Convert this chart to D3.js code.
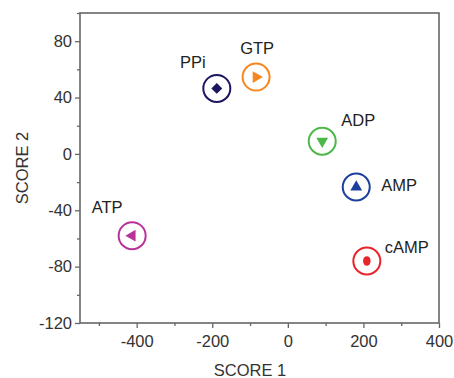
<!DOCTYPE html>
<html>
<head>
<meta charset="utf-8">
<script src="https://cdn.jsdelivr.net/npm/d3@7"></script>
<style>
  body { margin: 0; background: #fff; }
  text { font-family: "Liberation Sans", Arial, sans-serif; }
</style>
</head>
<body>
<script>
let names = ['PPi', 'GTP', 'ADP', 'AMP', 'cAMP', 'ATP']
let score1 = [-188, -84, 91, 181, 209, -412]
let score2 = [46.5, 54.5, 9, -23.5, -76, -58]
let colors = ['#1c1660', '#f7861f', '#4cb848', '#1d3f9c', '#e8242a', '#b8329b']
let shapes = ['diamond', 'right', 'down', 'up', 'dot', 'left']
// label offsets relative to point (px)
let labelDx = [-24, 1, 36, 43, 40, -25]
let labelDy = [-26, -29, -21, -2, -14, -29]
let xTicks = [-400, -200, 0, 200, 400]
let yTicks = [-120, -80, -40, 0, 40, 80]

let margin = { top: 13, right: 15, bottom: 55, left: 80 }
let width = 454 - margin.left - margin.right
let height = 378 - margin.top - margin.bottom
let frame = '#666'
let fs = '16.5px'

let svg = d3.select('body').append('svg')
  .attr('width', 454)
  .attr('height', 378)

let g = svg.append('g').attr('transform', `translate(${margin.left},${margin.top})`)

let x = d3.scaleLinear().domain([-550, 400]).range([0, width])
let y = d3.scaleLinear().domain([-120, 100]).range([height, 0])
let fmt = d => String(d)

// minor ticks
g.append('g')
  .attr('transform', `translate(0,${height})`)
  .call(d3.axisBottom(x).tickValues([-500, -300, -100, 100, 300]).tickSize(3).tickFormat(''))
g.append('g')
  .call(d3.axisLeft(y).tickValues([-100, -60, -20, 20, 60, 100]).tickSize(3).tickFormat(''))

g.append('g')
  .attr('transform', `translate(0,${height})`)
  .call(d3.axisBottom(x).tickValues(xTicks).tickSize(5).tickPadding(7).tickFormat(fmt))
g.append('g')
  .call(d3.axisLeft(y).tickValues(yTicks).tickSize(5).tickPadding(3).tickFormat(fmt))

g.selectAll('.domain').attr('stroke', 'none')
g.selectAll('.tick line').attr('stroke', frame).attr('stroke-width', 1.3)
g.selectAll('.tick text').attr('fill', '#333').style('font-size', fs)

// frame
g.append('rect')
  .attr('width', width).attr('height', height)
  .attr('fill', 'none').attr('stroke', frame).attr('stroke-width', 1.6)

svg.append('text')
  .attr('x', margin.left + x(-100)).attr('y', 376)
  .attr('text-anchor', 'middle').attr('fill', '#333')
  .style('font-size', fs).text('SCORE 1')
svg.append('text')
  .attr('transform', `translate(28,${margin.top + y(-10)}) rotate(-90)`)
  .attr('text-anchor', 'middle').attr('fill', '#333')
  .style('font-size', fs).text('SCORE 2')

let sym = {
  diamond: d3.symbol().type(d3.symbolSquare).size(60)(),
  up: d3.symbol().type(d3.symbolTriangle).size(60)(),
  dot: d3.symbol().type(d3.symbolCircle).size(55)()
}

names.forEach((n, i) => {
  let cx = x(score1[i]), cy = y(score2[i])
  let p = g.append('g').attr('transform', `translate(${cx},${cy})`)
  p.append('circle').attr('r', 13.5)
    .attr('fill', 'none').attr('stroke', colors[i]).attr('stroke-width', 2)
  let s = shapes[i]
  let d, rot = 0
  if (s === 'diamond') { d = sym.diamond; rot = 45 }
  else if (s === 'dot') d = sym.dot
  else {
    d = sym.up
    rot = { up: 0, right: 90, down: 180, left: -90 }[s]
  }
  p.append('path').attr('d', d)
    .attr('transform', `rotate(${rot})` + (s === 'dot' ? ' scale(0.9,1.15)' : ''))
    .attr('fill', colors[i])
  g.append('text')
    .attr('x', cx + labelDx[i]).attr('y', cy + labelDy[i] + 6)
    .attr('text-anchor', 'middle').attr('fill', '#222')
    .style('font-size', fs).text(n)
})
</script>
</body>
</html>
